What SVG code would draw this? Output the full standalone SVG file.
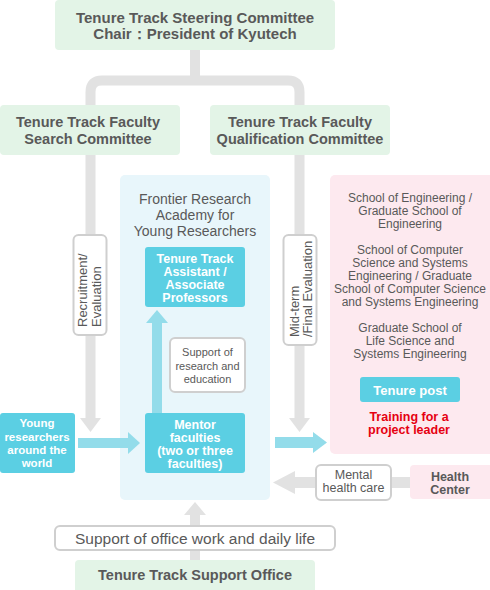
<svg xmlns="http://www.w3.org/2000/svg" width="490" height="590" viewBox="0 0 490 590">
<style>
text{font-family:"Liberation Sans",Arial,sans-serif;fill:#595959;text-anchor:middle}
.green{fill:#e3f4e7}
.blue{fill:#5bcfe3}
.pink{fill:#fde9ef}
.lbl{fill:#fff;stroke:#cfcfcf;stroke-width:2}
.gl{stroke:#e2e2e2;stroke-width:10;fill:none}
.ga{fill:#e2e2e2}
.ba{fill:#93dcea}
.h{font-weight:bold}
.w{fill:#fff;font-weight:bold}
.r{fill:#e60012;font-weight:bold}
</style>
<g id="frontier">
<rect fill="#e8f6fb" x="120" y="175" width="150" height="325" rx="5"/>
<text x="195" y="204" font-size="14">Frontier Research</text>
<text x="195" y="220" font-size="14">Academy for</text>
<text x="195" y="236" font-size="14">Young Researchers</text>
</g>
<g id="schools">
<rect class="pink" x="330" y="175" width="165" height="279" rx="5"/>
<text x="410" y="202" font-size="12">School of Engineering /</text>
<text x="410" y="215" font-size="12">Graduate School of</text>
<text x="410" y="228" font-size="12">Engineering</text>
<text x="410" y="254" font-size="12">School of Computer</text>
<text x="410" y="267" font-size="12">Science and Systems</text>
<text x="410" y="280" font-size="12">Engineering / Graduate</text>
<text x="410" y="293" font-size="12">School of Computer Science</text>
<text x="410" y="306" font-size="12">and Systems Engineering</text>
<text x="410" y="332" font-size="12">Graduate School of</text>
<text x="410" y="345" font-size="12">Life Science and</text>
<text x="410" y="358" font-size="12">Systems Engineering</text>
<text class="r" x="409" y="421" font-size="12.5">Training for a</text>
<text class="r" x="409" y="434" font-size="12.5">project leader</text>
</g>
<g id="connectors">
<path class="gl" d="M195,50 V80.5"/>
<path class="gl" d="M90.5,420 V92 Q90.5,80.5 102,80.5 H288 Q299.5,80.5 299.5,92 V420"/>
<polygon class="ga" points="80,418 101,418 90.5,432"/>
<polygon class="ga" points="289,418 310,418 299.5,432"/>
<rect class="ba" x="152" y="321" width="10" height="92"/>
<polygon class="ba" points="146,323 168,323 157,310"/>
<rect class="ba" x="78" y="438" width="52" height="10"/>
<polygon class="ba" points="128,432 140,443 128,454"/>
<rect class="ba" x="275" y="437" width="40" height="11"/>
<polygon class="ba" points="313,432 327,442.5 313,453"/>
<rect class="ga" x="290" y="477" width="122" height="11"/>
<polygon class="ga" points="295,471 273,482.5 295,494"/>
<rect class="ga" x="190" y="513" width="10" height="48"/>
<polygon class="ga" points="184,515 206,515 195,502"/>
</g>
<g id="steering">
<rect class="green" x="55" y="0" width="280" height="50" rx="4"/>
<text class="h" x="195" y="23" font-size="15">Tenure Track Steering Committee</text>
<text class="h" x="195" y="39" font-size="15">Chair：President of Kyutech</text>
</g>
<g id="search">
<rect class="green" x="0" y="105" width="180" height="50" rx="4"/>
<text class="h" x="88" y="127" font-size="14.5">Tenure Track Faculty</text>
<text class="h" x="88" y="144" font-size="14.5">Search Committee</text>
</g>
<g id="qualification">
<rect class="green" x="210" y="105" width="180" height="50" rx="4"/>
<text class="h" x="300" y="127" font-size="14.5">Tenure Track Faculty</text>
<text class="h" x="300" y="144" font-size="14.5">Qualification Committee</text>
</g>
<g id="recruit-label">
<rect class="lbl" x="73.5" y="235" width="33" height="100" rx="5"/>
<text x="87" y="327" font-size="13" transform="rotate(-90 87 327)" style="text-anchor:start">Recruitment/</text>
<text x="101" y="327" font-size="13" transform="rotate(-90 101 327)" style="text-anchor:start">Evaluation</text>
</g>
<g id="midterm-label">
<rect class="lbl" x="283.5" y="235" width="33" height="110" rx="5"/>
<text x="299" y="337" font-size="13" transform="rotate(-90 299 337)" style="text-anchor:start">Mid-term</text>
<text x="312" y="337" font-size="13" transform="rotate(-90 312 337)" style="text-anchor:start">/Final Evaluation</text>
</g>
<g id="assistant">
<rect class="blue" x="145" y="247" width="100" height="60" rx="3"/>
<text class="w" x="195" y="263" font-size="12.5">Tenure Track</text>
<text class="w" x="195" y="276" font-size="12.5">Assistant /</text>
<text class="w" x="195" y="289" font-size="12.5">Associate</text>
<text class="w" x="195" y="302" font-size="12.5">Professors</text>
</g>
<g id="support-research">
<rect class="lbl" x="170" y="338" width="75" height="54" rx="5"/>
<text x="207.5" y="356" font-size="11">Support of</text>
<text x="207.5" y="370" font-size="11">research and</text>
<text x="207.5" y="383" font-size="11">education</text>
</g>
<g id="mentor">
<rect class="blue" x="145" y="413" width="100" height="60" rx="3"/>
<text class="w" x="195" y="429" font-size="12.5">Mentor</text>
<text class="w" x="195" y="442" font-size="12.5">faculties</text>
<text class="w" x="195" y="455" font-size="12.5">(two or three</text>
<text class="w" x="195" y="468" font-size="12.5">faculties)</text>
</g>
<g id="young">
<rect class="blue" x="0" y="413" width="75" height="60" rx="3"/>
<text class="w" x="37" y="427" font-size="11.5">Young</text>
<text class="w" x="37" y="441" font-size="11.5">researchers</text>
<text class="w" x="37" y="454" font-size="11.5">around the</text>
<text class="w" x="37" y="467" font-size="11.5">world</text>
</g>
<g id="tenure-post">
<rect class="blue" x="360" y="377" width="100" height="25" rx="3"/>
<text class="w" x="410" y="394.5" font-size="13">Tenure post</text>
</g>
<g id="mental">
<rect class="lbl" x="316" y="465" width="75" height="35" rx="5"/>
<text x="353.5" y="479" font-size="12.5">Mental</text>
<text x="353.5" y="492" font-size="12.5">health care</text>
</g>
<g id="health">
<rect class="pink" x="410" y="465" width="85" height="34" rx="4"/>
<text class="h" x="450" y="481" font-size="12.5">Health</text>
<text class="h" x="450" y="494" font-size="12.5">Center</text>
</g>
<g id="support-office-label">
<rect class="lbl" x="55" y="526" width="280" height="24" rx="5"/>
<text x="195" y="544" font-size="15.5">Support of office work and daily life</text>
</g>
<g id="support-office">
<rect class="green" x="75" y="560" width="240" height="35" rx="4"/>
<text class="h" x="195" y="580" font-size="14.5">Tenure Track Support Office</text>
</g>
</svg>
